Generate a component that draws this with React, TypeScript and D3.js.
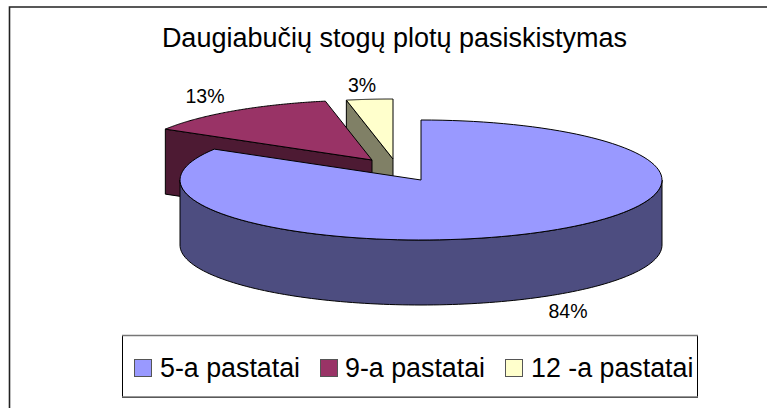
import * as d3 from 'd3';

const categories = ['5-a pastatai', '9-a pastatai', '12 -a pastatai'];
const values = [83.6, 13.3, 3.1];
const labels = ['84%', '13%', '3%'];
const topColors = ['#9999ff', '#993366', '#ffffcc'];
const sideColors = ['#4d4d80', '#4d1a33', '#808066'];

const width = 767;
const height = 408;
const rx = 241;
const ry = 60;
const depth = 65;
// where each slice's apex sits once exploded
const apexes = [[421, 180], [372, 160], [393, 159]];
const labelPos = [[568, 318], [205, 103], [362, 92]];
const legendX = [134, 320, 505];
const legendTextX = [160, 345, 531];

const pie = d3.pie<number>().sort(null).value(d => d);
const slices = pie(values);

const rimPoints = (c: number[], a0: number, a1: number, dy = 0) =>
  d3.range(0, 121).map(i => {
    const a = a0 + (a1 - a0) * i / 120;
    return [c[0] + rx * Math.sin(a), c[1] + dy - ry * Math.cos(a)] as [number, number];
  });

const line = d3.line();

function topPath(i: number) {
  const c = apexes[i] as [number, number];
  const s = slices[i];
  return line([c, ...rimPoints(c, s.startAngle, s.endAngle)]) + 'Z';
}

// front curved wall of the big slice, from 90deg round to its left side
function bigWall() {
  const c = apexes[0];
  const a0 = Math.PI / 2;
  const a1 = Math.PI * 1.5;
  return line([...rimPoints(c, a0, a1), ...rimPoints(c, a1, a0, depth)]) + 'Z';
}

// cut face below the slice's starting edge
function cutFace(i: number) {
  const c = apexes[i] as [number, number];
  const p = rimPoints(c, slices[i].startAngle, slices[i].startAngle)[0];
  return line([c, p, [p[0], p[1] + depth], [c[0], c[1] + depth]]) + 'Z';
}

export default function App() {
  return (
    <svg width={width} height={height} style={{ position: 'absolute', left: 0, top: 0 }} fontFamily="Liberation Sans, Arial, sans-serif">
      <path d="M9.5,408V7H767" fill="none" stroke="#222" strokeWidth={1.6} />
      <text x={394.5} y={47} textAnchor="middle" fontSize={27}>Daugiabučių stogų plotų pasiskistymas</text>

      <path d={cutFace(2)} fill={sideColors[2]} stroke="#000" />
      <path d={topPath(2)} fill={topColors[2]} stroke="#000" />
      <path d={cutFace(1)} fill={sideColors[1]} stroke="#000" />
      <path d={topPath(1)} fill={topColors[1]} stroke="#000" />
      <path d={bigWall()} fill={sideColors[0]} stroke="#000" />
      <path d={topPath(0)} fill={topColors[0]} stroke="#000" />

      {labels.map((l, i) => (
        <text key={l} x={labelPos[i][0]} y={labelPos[i][1]} textAnchor="middle" fontSize={19.5}>{l}</text>
      ))}

      <rect x={122.5} y={335.5} width={575} height={62} fill="#fff" stroke="#000" />
      <path d="M122,335.5H698M122,397H698" stroke="#777" strokeWidth={1.6} fill="none" />
      {categories.map((c, i) => (
        <g key={c}>
          <rect x={legendX[i] + 0.5} y={359.5} width={17} height={17} fill={topColors[i]} stroke="#555" />
          <text x={legendTextX[i]} y={377} fontSize={26.8}>{c}</text>
        </g>
      ))}
    </svg>
  );
}
